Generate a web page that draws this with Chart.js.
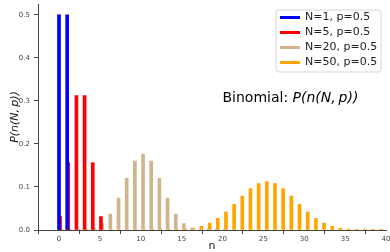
<!DOCTYPE html>
<html><head><meta charset="utf-8">
<script src="https://cdn.jsdelivr.net/npm/chart.js@4"></script>
<style>html,body{margin:0;padding:0;background:#fff}#wrap{width:390px;height:252px;position:relative}</style>
</head><body><div id="wrap"><canvas id="c"></canvas></div>
<script>
const seriesLabels = ['N=1, p=0.5', 'N=5, p=0.5', 'N=20, p=0.5', 'N=50, p=0.5'];
const seriesColors = ['#0000ff', '#ff0000', '#d2b48c', '#ffa500'];
// P(n) for n = 0, 1, 2, ...
const pN1 = [0.5, 0.5];
const pN5 = [0.03125, 0.15625, 0.3125, 0.3125, 0.15625, 0.03125];
const pN20 = [0.000001, 0.00002, 0.00018, 0.0011, 0.0046, 0.0148, 0.037, 0.0739, 0.1201, 0.1602,
              0.1762, 0.1602, 0.1201, 0.0739, 0.037, 0.0148, 0.0046, 0.0011, 0.00018, 0.00002, 0.000001];
const pN50 = [0, 0, 0, 0, 0, 0, 0, 0, 0, 0,
              0, 0.00001, 0.00004, 0.0003, 0.0008, 0.002, 0.0044, 0.0087, 0.016, 0.027,
              0.0419, 0.0598, 0.0788, 0.096, 0.108, 0.1123, 0.108, 0.096, 0.0788, 0.0598,
              0.0419, 0.027, 0.016, 0.0087, 0.0044, 0.002, 0.0008, 0.0003, 0.00004, 0.00001, 0];
const xTicks = [0, 5, 10, 15, 20, 25, 30, 35, 40];
const yTicks = [0.0, 0.1, 0.2, 0.3, 0.4, 0.5];
const titleText = 'Binomial: ';
const titleMath = 'P(n(N,\u2009p))';
const xLabel = 'n';
const yLabel = 'P(n(N,\u2009p))';

const series = [pN1, pN5, pN20, pN50];
const shift = [0, 0.13, 0.28, 0.42];
const datasets = series.map((arr, i) => ({
  label: seriesLabels[i],
  data: arr.map((v, n) => ({x: n + shift[i], y: v})),
  backgroundColor: seriesColors[i],
  borderWidth: 0,
  barThickness: 3,
  grouped: false
}));

const FONT = 'DejaVu Sans';
const overlay = {
  id: 'overlay',
  afterDraw(chart) {
    const ctx = chart.ctx;
    ctx.save();
    // legend
    const lx = 276, ly = 10, lw = 105, lh = 62, r = 3;
    ctx.beginPath();
    ctx.moveTo(lx + r, ly);
    ctx.arcTo(lx + lw, ly, lx + lw, ly + lh, r);
    ctx.arcTo(lx + lw, ly + lh, lx, ly + lh, r);
    ctx.arcTo(lx, ly + lh, lx, ly, r);
    ctx.arcTo(lx, ly, lx + lw, ly, r);
    ctx.closePath();
    ctx.fillStyle = 'rgba(255,255,255,0.8)';
    ctx.fill();
    ctx.strokeStyle = '#d6d6d6';
    ctx.lineWidth = 1;
    ctx.stroke();
    chart.data.datasets.forEach((ds, i) => {
      const y = 17.5 + i * 15;
      ctx.strokeStyle = ds.backgroundColor;
      ctx.lineWidth = 3;
      ctx.beginPath();
      ctx.moveTo(280, y);
      ctx.lineTo(300, y);
      ctx.stroke();
      ctx.fillStyle = '#222';
      ctx.font = '11px "' + FONT + '"';
      ctx.textBaseline = 'middle';
      ctx.textAlign = 'left';
      ctx.fillText(ds.label, 305, y);
    });
    // annotation
    ctx.fillStyle = '#000';
    ctx.textBaseline = 'alphabetic';
    ctx.font = '14px "' + FONT + '"';
    const x0 = 222.5, y0 = 102;
    ctx.fillText(titleText, x0, y0);
    const w = ctx.measureText(titleText).width;
    ctx.font = 'italic 14px "' + FONT + '"';
    ctx.fillText(titleMath, x0 + w, y0);
    ctx.restore();
  }
};

const noPad = s => { s.paddingTop = 0; s.paddingBottom = 0; s.paddingLeft = 0; s.paddingRight = 0; };

Chart.defaults.font.family = FONT;
new Chart(document.getElementById('c'), {
  type: 'bar',
  data: {datasets},
  options: {
    responsive: true,
    maintainAspectRatio: false,
    animation: false,
    layout: {padding: {top: 4, right: 4, left: 0, bottom: 0}},
    plugins: {legend: {display: false}, tooltip: {enabled: false}},
    scales: {
      x: {
        type: 'linear', min: -2.57, max: 40, offset: false,
        afterBuildTicks: s => { s.ticks = xTicks.map(v => ({value: v})); },
        afterFit: s => { s.height = 22; noPad(s); },
        grid: {drawOnChartArea: false, drawTicks: true, tickLength: 4, color: '#444'},
        border: {display: true, color: '#444', width: 1},
        ticks: {font: {size: 7}, color: '#444', padding: 1, maxRotation: 0},
        title: {display: true, text: xLabel, font: {size: 11, lineHeight: 1}, color: '#111', padding: {top: 0, bottom: 0}}
      },
      y: {
        min: 0, max: 0.525,
        afterBuildTicks: s => { s.ticks = yTicks.map(v => ({value: v})); },
        afterFit: s => { s.width = 38; noPad(s); },
        grid: {drawOnChartArea: false, drawTicks: true, tickLength: 4, color: '#444'},
        border: {display: true, color: '#444', width: 1},
        ticks: {font: {size: 7}, color: '#444', padding: 4, callback: v => v.toFixed(1)},
        title: {display: true, text: yLabel, font: {size: 11, style: 'italic', lineHeight: 1}, color: '#111', padding: {top: 10, bottom: 0}}
      }
    }
  },
  plugins: [overlay]
});
</script>
</body></html>
